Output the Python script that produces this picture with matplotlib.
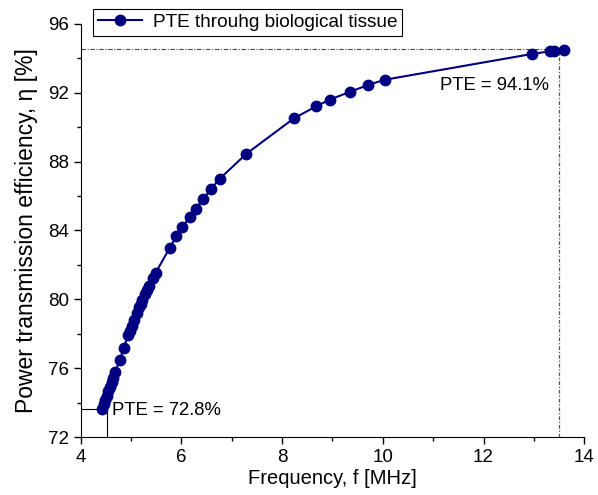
import numpy as np
import matplotlib.pyplot as plt

plt.rcParams['font.family'] = ['Liberation Sans', 'DejaVu Sans']
plt.rcParams['axes.unicode_minus'] = False

# data
freq = [4.43, 4.46, 4.49, 4.52, 4.55, 4.58, 4.62, 4.65, 4.69, 4.77,
        4.86, 4.94, 4.97, 5.01, 5.05, 5.11, 5.16, 5.19, 5.22, 5.27,
        5.31, 5.35, 5.44, 5.49, 5.77, 5.90, 6.02, 6.17, 6.28, 6.43,
        6.58, 6.76, 7.29, 8.23, 8.67, 8.95, 9.35, 9.71, 10.04, 12.97,
        13.32, 13.39, 13.60]
pte = [73.65, 73.90, 74.15, 74.40, 74.65, 74.90, 75.20, 75.45, 75.80, 76.45,
       77.20, 77.95, 78.15, 78.45, 78.80, 79.20, 79.55, 79.75, 79.95, 80.30,
       80.55, 80.80, 81.25, 81.55, 83.00, 83.65, 84.20, 84.80, 85.25, 85.80,
       86.40, 87.00, 88.45, 90.50, 91.20, 91.60, 92.05, 92.45, 92.75, 94.25,
       94.40, 94.42, 94.46]

low_f, low_pte = 4.52, 73.63
high_f, high_pte = 13.50, 94.54

fig = plt.figure(figsize=(5.98, 4.95), dpi=100)
ax = fig.add_axes([0.135, 0.117, 0.842, 0.835])
ax.spines['top'].set_visible(False)
ax.spines['right'].set_visible(False)

# guide lines
ax.plot([4, low_f], [low_pte, low_pte], color='black', linewidth=0.8)
ax.plot([low_f, low_f], [72, low_pte], color='black', linewidth=0.8)
ax.plot([4, high_f], [high_pte, high_pte], color='#444444', linewidth=0.8,
        linestyle=(0, (4, 1.5, 1, 1.5)))
ax.plot([high_f, high_f], [72, high_pte], color='#555555', linewidth=0.9,
        linestyle=(0, (3, 1.5, 1, 1.5)))

ax.plot(freq, pte, color='#000080', linewidth=1.5, marker='o', markersize=7.5,
        label='PTE throuhg biological tissue')

ax.text(4.62, 73.55, 'PTE = 72.8%', fontsize=13.3, va='center', ha='left')
ax.text(13.3, 92.4, 'PTE = 94.1%', fontsize=13.3, va='center', ha='right')

ax.set_xlim(4, 14)
ax.set_ylim(72, 96)
ax.set_xticks(np.arange(4, 15, 2))
ax.set_xticks(np.arange(5, 14, 2), minor=True)
ax.set_yticks(np.arange(72, 97, 4))
ax.set_yticks(np.arange(74, 96, 4), minor=True)
ax.tick_params(which='major', direction='out', length=5, width=1, labelsize=13.5)
ax.tick_params(which='minor', direction='out', length=3, width=1)
ax.set_xlabel('Frequency, f [MHz]', fontsize=14.5, labelpad=2)
ax.set_ylabel('Power transmission efficiency, η [%]', fontsize=16.5, labelpad=7)

leg = ax.legend(loc='upper left', bbox_to_anchor=(93 / 598, 1 - 9 / 495),
                bbox_transform=fig.transFigure, fontsize=13.7, frameon=True,
                fancybox=False, edgecolor='black', framealpha=1,
                borderpad=0.25, handlelength=2.3, handletextpad=0.6,
                borderaxespad=0)
leg.get_frame().set_linewidth(0.8)

plt.savefig('out.png', dpi=100)
